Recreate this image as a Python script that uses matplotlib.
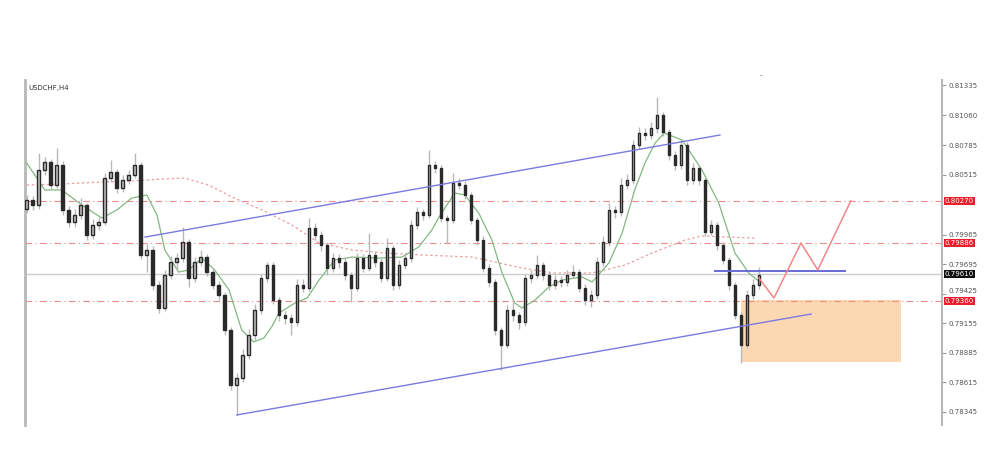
import numpy as np
import matplotlib
matplotlib.use("Agg")
import matplotlib.pyplot as plt
import matplotlib.transforms as mtransforms

# USDCHF H4 closes
closes = [0.80283, 0.80237, 0.80558, 0.80631, 0.80420, 0.80603, 0.80192, 0.80082, 0.80146, 0.80237,
          0.79963, 0.80054, 0.80082, 0.80484, 0.80539, 0.80393, 0.80466, 0.80512, 0.80603, 0.79780,
          0.79826, 0.79505, 0.79295, 0.79597, 0.79716, 0.79752, 0.79899, 0.79569, 0.79716, 0.79761,
          0.79624, 0.79505, 0.79414, 0.79094, 0.78590, 0.78654, 0.78865, 0.79048, 0.79277, 0.79569,
          0.79688, 0.79368, 0.79231, 0.79203, 0.79167, 0.79505, 0.79480, 0.80027, 0.79963, 0.79871,
          0.79661, 0.79752, 0.79716, 0.79597, 0.79478, 0.79752, 0.79661, 0.79780, 0.79716, 0.79569,
          0.79844, 0.79505, 0.79688, 0.79752, 0.80054, 0.80173, 0.80146, 0.80603, 0.80576, 0.80118,
          0.80100, 0.80438, 0.80420, 0.80329, 0.80100, 0.79917, 0.79661, 0.79533, 0.79094, 0.78956,
          0.79277, 0.79231, 0.79167, 0.79569, 0.79597, 0.79688, 0.79597, 0.79505, 0.79551, 0.79533,
          0.79597, 0.79624, 0.79478, 0.79368, 0.79414, 0.79716, 0.79899, 0.80192, 0.80173, 0.80420,
          0.80466, 0.80786, 0.80896, 0.80878, 0.80942, 0.81061, 0.80905, 0.80695, 0.80603, 0.80786,
          0.80466, 0.80576, 0.80466, 0.79990, 0.80054, 0.79871, 0.79734, 0.79505, 0.79231, 0.78956,
          0.79414, 0.79505, 0.79597]
first_open = 0.80200

highs = [0.80330, 0.80320, 0.80713, 0.80680, 0.80660, 0.80759, 0.80640, 0.80230, 0.80200, 0.80300,
         0.80260, 0.80110, 0.80130, 0.80530, 0.80649, 0.80570, 0.80510, 0.80560, 0.80713, 0.80630,
         0.79880, 0.79860, 0.79540, 0.79640, 0.79770, 0.79800, 0.80036, 0.79930, 0.79760, 0.79830,
         0.79790, 0.79660, 0.79540, 0.79440, 0.79120, 0.78700, 0.78920, 0.79100, 0.79330, 0.79610,
         0.79720, 0.79720, 0.79400, 0.79270, 0.79240, 0.79560, 0.79560, 0.80118, 0.80070, 0.80000,
         0.79900, 0.79800, 0.79790, 0.79750, 0.79620, 0.79800, 0.79790, 0.79981, 0.79820, 0.79750,
         0.79935, 0.79870, 0.79730, 0.79800, 0.80100, 0.80220, 0.80200, 0.80741, 0.80640, 0.80600,
         0.80150, 0.80530, 0.80480, 0.80460, 0.80360, 0.80130, 0.79950, 0.79700, 0.79560, 0.79120,
         0.79320, 0.79350, 0.79260, 0.79610, 0.79640, 0.79780, 0.79720, 0.79630, 0.79600, 0.79590,
         0.79640, 0.79690, 0.79650, 0.79510, 0.79460, 0.79760, 0.79950, 0.80260, 0.80230, 0.80480,
         0.80520, 0.80830, 0.80950, 0.80940, 0.81000, 0.81225, 0.81090, 0.80930, 0.80730, 0.80830,
         0.80810, 0.80620, 0.80600, 0.80490, 0.80100, 0.80080, 0.79900, 0.79760, 0.79530, 0.79260,
         0.79460, 0.79560, 0.79670]

lows = [0.80160, 0.80190, 0.80200, 0.80510, 0.80380, 0.80390, 0.80150, 0.80040, 0.80040, 0.80110,
        0.79920, 0.79930, 0.80010, 0.80050, 0.80450, 0.80350, 0.80360, 0.80430, 0.80480, 0.79740,
        0.79620, 0.79460, 0.79250, 0.79270, 0.79560, 0.79640, 0.79720, 0.79487, 0.79530, 0.79680,
        0.79590, 0.79470, 0.79370, 0.79050, 0.78545, 0.78316, 0.78620, 0.78830, 0.79000, 0.79240,
        0.79530, 0.79330, 0.79180, 0.79150, 0.79048, 0.79130, 0.79440, 0.79450, 0.79920, 0.79820,
        0.79600, 0.79620, 0.79660, 0.79550, 0.79350, 0.79450, 0.79620, 0.79630, 0.79670, 0.79530,
        0.79540, 0.79460, 0.79470, 0.79650, 0.79720, 0.80020, 0.80100, 0.80120, 0.80530, 0.80080,
        0.79889, 0.80070, 0.80380, 0.80290, 0.80060, 0.79870, 0.79620, 0.79490, 0.79050, 0.78728,
        0.78930, 0.79180, 0.79100, 0.79130, 0.79520, 0.79560, 0.79550, 0.79460, 0.79470, 0.79490,
        0.79500, 0.79570, 0.79440, 0.79320, 0.79304, 0.79380, 0.79680, 0.79860, 0.80120, 0.80140,
        0.80380, 0.80430, 0.80750, 0.80830, 0.80840, 0.80900, 0.80870, 0.80650, 0.80560, 0.80570,
        0.80420, 0.80430, 0.80420, 0.79950, 0.79960, 0.79830, 0.79700, 0.79460, 0.79190, 0.78791,
        0.78930, 0.79380, 0.79470]

# moving averages (bar index, price)
fast_ma_idx = [0, 3, 5.8, 9.2, 12.5, 15, 17.5, 20, 21.7, 23, 25.3, 27, 29.2, 31.3, 33.7, 35.8,
               37.8, 39.5, 40.8, 42, 44.7, 46.7, 48.7, 51.3, 54.2, 58.7, 62.5, 65.3, 67.5, 68.7,
               71.3, 73, 75.3, 77.5, 79.2, 81.3, 82.5, 84.7, 87, 89.2, 92.5, 94.2, 97, 99.2,
               101.3, 103, 104.7, 106.2, 109.2, 112.5, 115.3, 118, 120.3, 121.7]
fast_ma = [0.80621, 0.80375, 0.80375, 0.80237, 0.80118, 0.80192, 0.80301, 0.80329, 0.80146,
           0.79826, 0.79624, 0.79643, 0.79752, 0.79643, 0.79460, 0.79094, 0.78984, 0.79020,
           0.79121, 0.79249, 0.79341, 0.79386, 0.79551, 0.79734, 0.79761, 0.79752, 0.79761,
           0.79853, 0.80009, 0.80128, 0.80347, 0.80329, 0.80164, 0.79917, 0.79615, 0.79341,
           0.79295, 0.79368, 0.79487, 0.79551, 0.79579, 0.79533, 0.79707, 0.79981, 0.80375,
           0.80621, 0.80804, 0.80896, 0.80832, 0.80558, 0.80256, 0.79798, 0.79615, 0.79551]

slow_ma_idx = [0, 5.8, 12.5, 17.5, 22.5, 26.3, 30.3, 34.2, 39.2, 44.2, 48.7, 54.2, 59.7, 65.8,
               74.2, 82.5, 87.5, 94.2, 99.7, 104.2, 109.7, 112.5, 121.3]
slow_ma = [0.80420, 0.80429, 0.80448, 0.80457, 0.80475, 0.80484, 0.80420, 0.80311, 0.80192,
           0.80054, 0.79890, 0.79826, 0.79798, 0.79780, 0.79761, 0.79661, 0.79615, 0.79615,
           0.79688, 0.79798, 0.79917, 0.79954, 0.79935]

# drawn objects
upper_channel = ([19.7, 115.5], [0.79944, 0.80878])
lower_channel = ([35.0, 130.7], [0.78316, 0.79240])
blue_level = ([114.7, 136.3], [0.79636, 0.79636])
projection_idx = [122, 124.5, 129, 131.8, 137.3]
projection_px = [0.79569, 0.79386, 0.79890, 0.79643, 0.80274]
zone_idx = (119.0, 145.7)
zone_px = (0.78800, 0.79368)

red_levels = [0.80270, 0.79886, 0.79360]
current_price = 0.79610
tick_values = [0.81335, 0.81060, 0.80785, 0.80515, 0.79965, 0.79695, 0.79425, 0.79155,
               0.78885, 0.78615, 0.78345]

fig = plt.figure(figsize=(10, 4.7), dpi=100)
ax = fig.add_axes([0.025, 0.0957, 0.917, 0.734])

n = len(closes)
x = np.arange(n)
opens = np.array([first_open] + closes[:-1])
c = np.array(closes)

# orange target zone
ax.fill_between(zone_idx, zone_px[0], zone_px[1], color='#fbd8b2', lw=0, zorder=1)

# horizontal levels
for lv in red_levels:
    ax.axhline(lv, color='#eb8c8c', lw=0.8, ls=(0, (6, 3, 1, 3)), zorder=2)
ax.axhline(current_price, color='#cccccc', lw=1.0, zorder=2)

# moving averages
ax.plot(slow_ma_idx, slow_ma, color='#eba0a0', lw=0.9, ls=(0, (2, 2)), zorder=3)
ax.plot(fast_ma_idx, fast_ma, color='#82b882', lw=0.9, zorder=4)

# candles
ax.vlines(x, lows, highs, color='#b8b8b8', lw=1.0, zorder=5)
bull = c >= opens
bottoms = np.minimum(opens, c)
heights = np.maximum(np.abs(c - opens), 0.00003)
ax.bar(x[bull], heights[bull], bottom=bottoms[bull], width=0.45,
       facecolor='#bdbdbd', edgecolor='#2a2a2a', lw=1.0, zorder=6)
ax.bar(x[~bull], heights[~bull], bottom=bottoms[~bull], width=0.45,
       facecolor='#2a2a2a', edgecolor='#2a2a2a', lw=1.0, zorder=6)

# trend lines and projection
ax.plot(*upper_channel, color='#7a7ae0', lw=1.0, zorder=7)
ax.plot(*lower_channel, color='#7a7ae0', lw=1.0, zorder=7)
ax.plot(*blue_level, color='#6a6ad8', lw=1.4, zorder=7)
ax.plot(projection_idx, projection_px, color='#f08888', lw=1.1, zorder=7)

ax.set_xlim(-0.3, 152.5)
ax.set_ylim(0.78224, 0.81381)

# axes look
for side in ['top', 'bottom']:
    ax.spines[side].set_visible(False)
ax.spines['left'].set_color('#b8b8b8')
ax.spines['left'].set_linewidth(2)
ax.spines['right'].set_color('#b8b8b8')
ax.spines['right'].set_linewidth(1.5)
ax.set_xticks([])
ax.yaxis.tick_right()
ax.set_yticks(tick_values)
ax.set_yticklabels(['%.5f' % v for v in tick_values])
ax.tick_params(axis='y', labelsize=5, labelcolor='#555555', color='#999999',
               length=3, width=0.8, pad=1.5)
# nudge the tick label that sits right above the red 0.79360 box
for lbl in ax.get_yticklabels():
    if lbl.get_text() == '0.79425':
        lbl.set_va('bottom')

trans = mtransforms.blended_transform_factory(ax.transAxes, ax.transData)
for lv in red_levels:
    ax.text(1.003, lv, '%.5f' % lv, transform=trans, fontsize=5, color='white',
            va='center', ha='left', zorder=10,
            bbox=dict(boxstyle='square,pad=0.15', fc='#e8202a', ec='none'))
ax.text(1.003, current_price, '%.5f' % current_price, transform=trans, fontsize=5,
        color='white', va='center', ha='left', zorder=10,
        bbox=dict(boxstyle='square,pad=0.15', fc='#111111', ec='none'))

ax.text(0.004, 0.985, 'USDCHF,H4', transform=ax.transAxes, fontsize=5, color='#333333',
        va='top', ha='left')
fig.text(0.76, 0.835, '-', fontsize=5, color='#555555')

fig.savefig('out.png', dpi=100, facecolor='white')
